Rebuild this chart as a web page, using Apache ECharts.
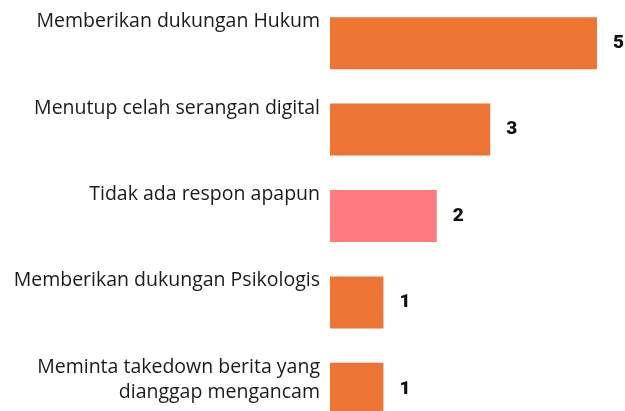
<!doctype html>
<html>
<head>
<meta charset="utf-8">
<title>Respon</title>
<script src="https://cdn.jsdelivr.net/npm/echarts@6/dist/echarts.min.js"></script>
<style>
  html, body { margin: 0; padding: 0; background: #fff; }
  #container { width: 625px; height: 411px; }
</style>
</head>
<body>
<div id="container"></div>
<script type="text/javascript">
// kategori respon dan jumlahnya
var categories = [
  'Memberikan dukungan Hukum',
  'Menutup celah serangan digital',
  'Tidak ada respon apapun',
  'Memberikan dukungan Psikologis',
  'Meminta takedown berita yang\ndianggap mengancam'
];
var values = [5, 3, 2, 1, 1];
var highlight = 'Tidak ada respon apapun'; // bar warna pink

var orange = '#ED7533';
var pink = '#FF7B80';

var barData = values.map(function (v, i) {
  return {
    value: v,
    itemStyle: { color: categories[i] === highlight ? pink : orange }
  };
});

var option = {
  animation: false,
  grid: {
    left: 330, top: 0, width: 267, height: 432,
    containLabel: false,
    outerBoundsMode: 'none'
  },
  xAxis: { type: 'value', min: 0, max: 5, show: false },
  yAxis: { type: 'category', data: categories, inverse: true, show: false },
  series: [
    {
      type: 'bar',
      data: barData,
      barWidth: 52,
      label: {
        show: true,
        position: 'right',
        distance: 16,
        color: '#111',
        fontFamily: 'Roboto',
        fontWeight: 900,
        fontSize: 19
      }
    },
    {
      // seri transparan hanya untuk label kategori di kiri atas bar
      type: 'bar',
      data: values,
      barWidth: 52,
      barGap: '-100%',
      silent: true,
      itemStyle: { color: 'rgba(0,0,0,0)' },
      label: {
        show: true,
        position: [-10, -8],
        align: 'right',
        verticalAlign: 'top',
        formatter: '{b}',
        color: '#1a1a1a',
        fontFamily: 'Open Sans',
        fontSize: 19.5,
        lineHeight: 25
      }
    }
  ]
};

var myChart = echarts.init(document.getElementById('container'));
myChart.setOption(option);
</script>
</body>
</html>
